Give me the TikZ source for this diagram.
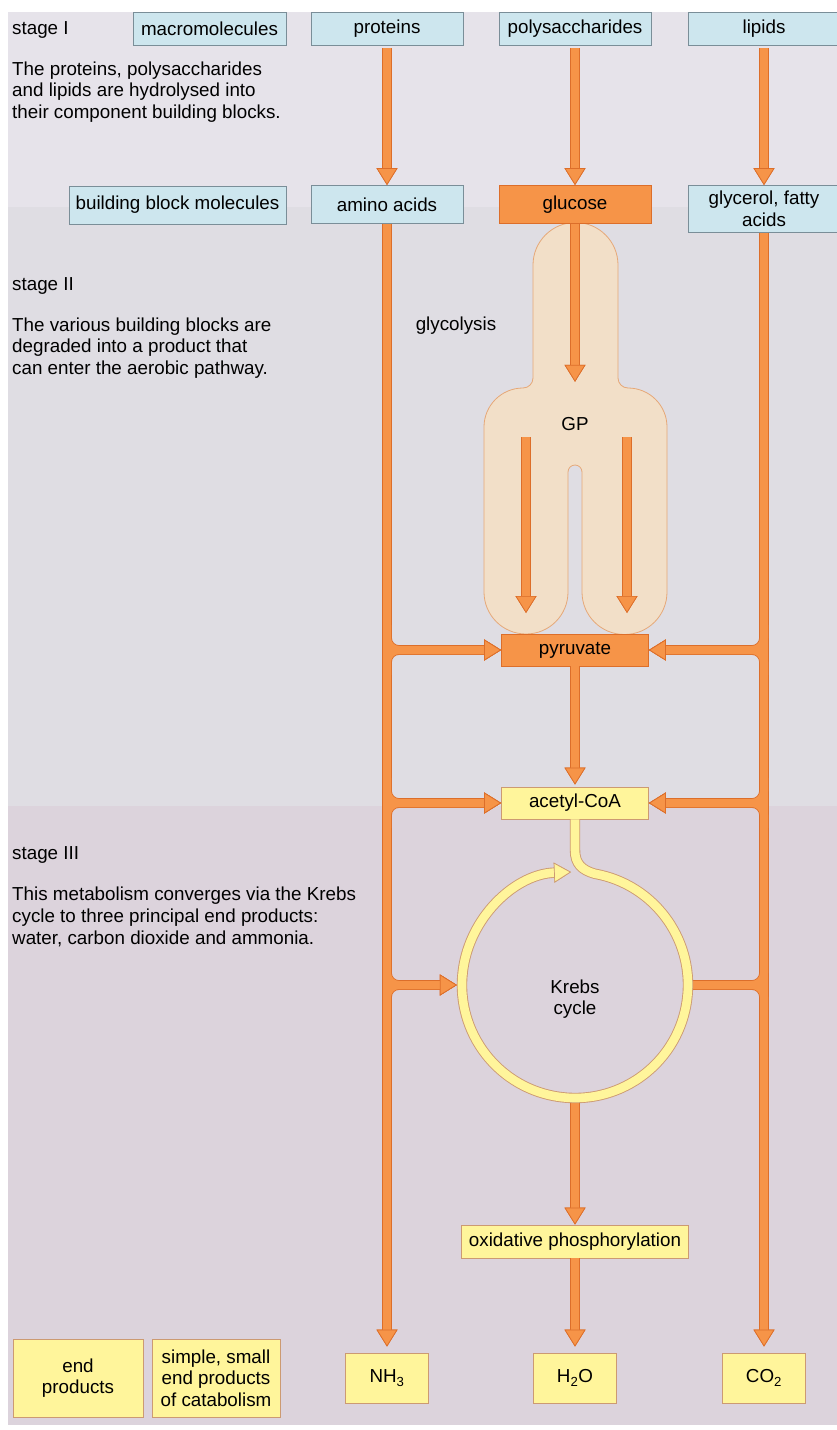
\documentclass[tikz,border=0pt]{standalone}
\usepackage{fontspec}
\setmainfont{Liberation Sans}
\usetikzlibrary{arrows.meta}
\definecolor{bandI}{HTML}{E6E3EA}
\definecolor{bandII}{HTML}{DFDDE3}
\definecolor{bandIII}{HTML}{DCD3DC}
\definecolor{boxA}{HTML}{CDE6EE}
\definecolor{boxD}{HTML}{7A8E98}
\definecolor{orangeA}{HTML}{F69448}
\definecolor{orangeD}{HTML}{DC6E2A}
\definecolor{yellowA}{HTML}{FFF59B}
\definecolor{yellowD}{HTML}{CC9A72}
\definecolor{peachA}{HTML}{F2DFC8}
\definecolor{peachD}{HTML}{E6A878}
\newcommand\chartfont{\fontsize{18.8}{21.7}\selectfont}
\begin{document}
\begin{tikzpicture}[x=1pt, y=1pt,
  bluebox/.style={rectangle, draw=boxD, fill=boxA, line width=0.8pt, inner sep=0pt, align=center, font=\chartfont},
  orangebox/.style={bluebox, draw=orangeD, fill=orangeA},
  yellowbox/.style={bluebox, draw=yellowD, fill=yellowA},
  note/.style={inner sep=0pt, align=left, anchor=west, font=\chartfont},
  flowedge/.style={draw=orangeD, line width=9.6pt},
  flowcore/.style={draw=orangeA, line width=8pt},
  flowtip/.style={-{Triangle[width=21pt, length=17pt, color=orangeD, fill=orangeA, line width=0.7pt]}},
  ringedge/.style={draw=yellowD, line width=10.4pt},
  ringcore/.style={draw=yellowA, line width=8.6pt},
  ringtip/.style={-{Triangle[width=20pt, length=17pt, color=yellowD, fill=yellowA, line width=0.7pt]}}
]
  \useasboundingbox (0,0) rectangle (837,-1430);
  \clip (0,0) rectangle (837,-1430);
  \fill[white] (0,0) rectangle (837,-1430);
  % stage bands
  \fill[bandI] (8,-12) rectangle (837,-207);
  \fill[bandII] (8,-207) rectangle (837,-806);
  \fill[bandIII] (8,-806) rectangle (837,-1425);

  % glycolysis outline
  \filldraw[fill=peachA, draw=peachD, line width=0.8pt]
    (533,-265) arc[start angle=180, end angle=0, radius=42.5]
    -- (618,-378) to[out=-90, in=180] (628,-388)
    arc[start angle=90, end angle=0, radius=39]
    -- (667,-592) arc[start angle=0, end angle=-180, radius=42.5]
    -- (582,-472) arc[start angle=0, end angle=180, radius=7]
    -- (568,-592) arc[start angle=0, end angle=-180, radius=42]
    -- (484,-427) arc[start angle=180, end angle=90, radius=39]
    to[out=0, in=-90] (533,-378) -- cycle;

  \node[bluebox, minimum width=153pt, minimum height=33pt] (macro) at (209.5,-28.5) {macromolecules};
  \node[bluebox, minimum width=152pt, minimum height=33pt] (proteins) at (387,-28.5) {proteins};
  \node[bluebox, minimum width=152pt, minimum height=33pt] (polysac) at (575,-28.5) {polysaccharides};
  \node[bluebox, minimum width=152pt, minimum height=33pt] (lipids) at (764,-28.5) {lipids};
  \node[bluebox, minimum width=217pt, minimum height=38pt] (blocks) at (177.5,-205) {building block molecules};
  \node[bluebox, minimum width=152pt, minimum height=38pt] (amino) at (387,-204.5) {amino acids};
  \node[orangebox, minimum width=152pt, minimum height=38pt] (glucose) at (575,-204.5) {glucose};
  \node[bluebox, minimum width=152pt, minimum height=47pt] (glycerol) at (764,-209) {glycerol, fatty\\acids};
  \node[orangebox, minimum width=147pt, minimum height=32pt] (pyruvate) at (575,-650) {pyruvate};
  \node[yellowbox, minimum width=147pt, minimum height=32pt] (acetyl) at (575,-803) {acetyl-CoA};
  \node[circle, minimum size=236pt, inner sep=0pt] (krebs) at (575,-985) {};
  \node[font=\chartfont, align=center] (krebstext) at (575,-999) {Krebs\\cycle};
  \node[yellowbox, minimum width=227pt, minimum height=33pt] (oxphos) at (575,-1241.5) {oxidative phosphorylation};
  \node[yellowbox, minimum width=83pt, minimum height=50pt] (nh3) at (387,-1378) {NH\textsubscript{3}};
  \node[yellowbox, minimum width=83pt, minimum height=50pt] (h2o) at (575,-1378) {H\textsubscript{2}O};
  \node[yellowbox, minimum width=83pt, minimum height=50pt] (co2) at (764,-1378) {CO\textsubscript{2}};
  \node[yellowbox, minimum width=130pt, minimum height=78pt] (endprod) at (78,-1378) {end\\products};
  \node[yellowbox, minimum width=128pt, minimum height=78pt] (simple) at (216,-1378) {simple, small\\end products\\of catabolism};

  \node[note] (stage1) at (12,-30) {stage I};
  \node[note] (text1) at (12,-92) {The proteins, polysaccharides\\and lipids are hydrolysed into\\their component building blocks.};
  \node[note] (stage2) at (12,-286) {stage II};
  \node[note] (text2) at (12,-348) {The various building blocks are\\degraded into a product that\\can enter the aerobic pathway.};
  \node[note] (stage3) at (12,-855) {stage III};
  \node[note] (text3) at (12,-917) {This metabolism converges via the Krebs\\cycle to three principal end products:\\water, carbon dioxide and ammonia.};
  \node[font=\chartfont] (glycolysis) at (456,-326) {glycolysis};
  \node[font=\chartfont, minimum height=80pt] (gp) at (575,-424) {GP};

  \coordinate (legL1) at (526,-437);
  \coordinate (legL2) at (526,-613);
  \coordinate (legR1) at (627,-437);
  \coordinate (legR2) at (627,-613);

  % pipes: outline pass, then fill pass
  \foreach \pass in {flowedge,flowcore} {
    \draw[\pass, flowtip, shorten <=3pt] (proteins) -- (amino);
    \draw[\pass, flowtip, shorten <=3pt] (polysac) -- (glucose);
    \draw[\pass, flowtip, shorten <=3pt] (lipids) -- (glycerol);
    \draw[\pass, flowtip, shorten >=6pt] (amino) -- (nh3);
    \draw[\pass, flowtip, shorten >=6pt] (glycerol) -- (co2);
    \draw[\pass, flowtip, shorten >=2pt] (glucose) -- (gp);
    \draw[\pass, flowtip] (legL1) -- (legL2);
    \draw[\pass, flowtip] (legR1) -- (legR2);
    \draw[\pass, flowtip, shorten >=2pt] (pyruvate) -- (acetyl);
    \draw[\pass, flowtip] (krebs) -- (oxphos);
    \draw[\pass, flowtip, shorten >=6pt] (oxphos) -- (h2o);
    \draw[\pass, flowtip, rounded corners=12pt] (amino.south |- 0,-625) |- (pyruvate);
    \draw[\pass, flowtip, rounded corners=12pt] (amino.south |- 0,-675) |- (pyruvate);
    \draw[\pass, flowtip, rounded corners=12pt] (amino.south |- 0,-778) |- (acetyl);
    \draw[\pass, flowtip, rounded corners=12pt] (amino.south |- 0,-828) |- (acetyl);
    \draw[\pass, flowtip, rounded corners=12pt] (amino.south |- 0,-960) |- (krebs);
    \draw[\pass, flowtip, rounded corners=12pt] (amino.south |- 0,-1010) |- (krebs);
    \draw[\pass, flowtip, rounded corners=12pt] (glycerol.south |- 0,-625) |- (pyruvate);
    \draw[\pass, flowtip, rounded corners=12pt] (glycerol.south |- 0,-675) |- (pyruvate);
    \draw[\pass, flowtip, rounded corners=12pt] (glycerol.south |- 0,-778) |- (acetyl);
    \draw[\pass, flowtip, rounded corners=12pt] (glycerol.south |- 0,-828) |- (acetyl);
    \draw[\pass, rounded corners=12pt] (krebs) -| (glycerol.south |- 0,-960);
    \draw[\pass, rounded corners=12pt] (krebs) -| (glycerol.south |- 0,-1010);
  }

  % Krebs ring
  \foreach \pass in {ringedge,ringcore} {
    \draw[\pass, ringtip] (acetyl.south) -- (575,-850)
      .. controls (575,-864) and (582,-870) .. (594.6,-873.7)
      arc[start angle=80, end angle=-268, radius=113];
  }
\end{tikzpicture}
\end{document}
